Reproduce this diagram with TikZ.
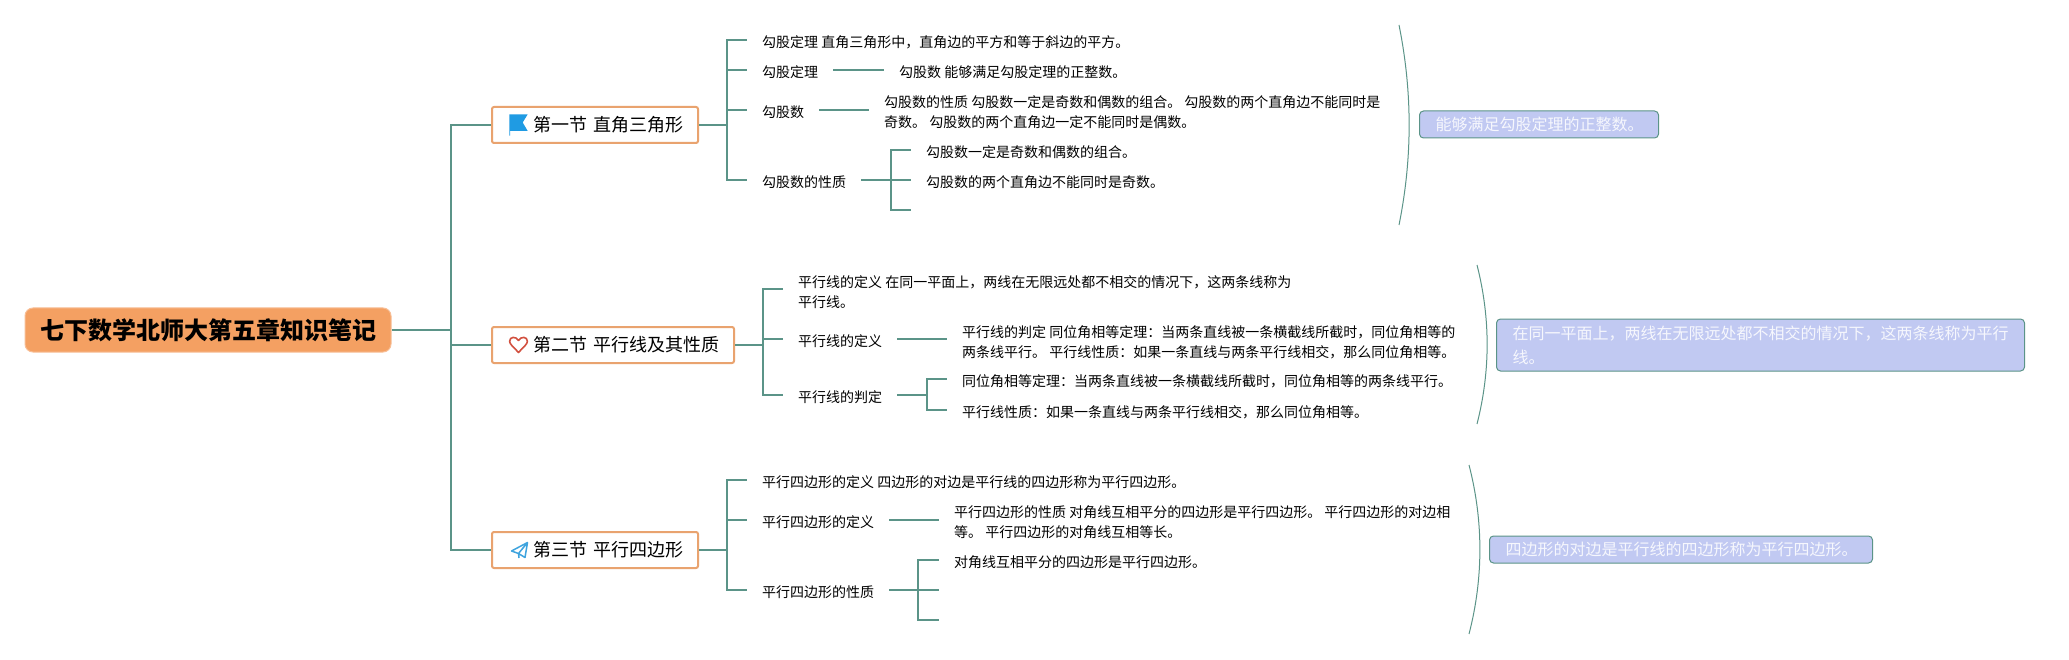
\documentclass[tikz,border=0pt]{standalone}
\usepackage{fontspec}
\setmainfont{Noto Sans CJK SC}
\definecolor{linegreen}{HTML}{5B9488}
\definecolor{sectionorange}{HTML}{E9A36F}
\definecolor{rootorange}{HTML}{F4A062}
\definecolor{rootedge}{HTML}{F8BE95}
\definecolor{notefill}{HTML}{C1C9F2}
\definecolor{notetext}{HTML}{F6F7FD}
\definecolor{flagblue}{HTML}{1F9BE3}
\definecolor{planeblue}{HTML}{3FA4DE}
\definecolor{heartred}{HTML}{D2503F}
\tikzset{
  conn/.style={draw=linegreen,line width=2.3pt,line join=miter},
  gap/.style={shorten <=15pt,shorten >=15pt},
  tick/.style={shorten >=15pt},
  arc/.style={draw=linegreen,line width=1pt},
  rootbox/.style={fill=rootorange,draw=rootedge,line width=1pt,rounded corners=8pt,
    minimum width=366pt,minimum height=44pt,inner sep=0pt,
    font=\fontsize{24}{28}\selectfont\bfseries,text=black},
  secbox/.style={fill=white,draw=sectionorange,line width=2pt,rounded corners=2pt,
    minimum height=36pt,inner xsep=15pt,inner ysep=0pt,align=right,anchor=west,
    font=\fontsize{18}{22}\selectfont,text=black},
  txt/.style={anchor=west,inner sep=0pt,align=left,text=black,
    font=\fontsize{14}{20}\selectfont},
  notebox/.style={fill=notefill,draw=linegreen,line width=1pt,rounded corners=4pt,
    anchor=west,inner xsep=16pt,inner ysep=0pt,align=left,text=notetext,
    font=\fontsize{16}{24}\selectfont}
}
\begin{document}
\begin{tikzpicture}[x=1pt,y=-1pt]
\useasboundingbox (0,0) rectangle (2069,660);
\fill[white] (0,0) rectangle (2069,660);

% nodes: root and sections
\node[rootbox] (root) at (208,330) {七下数学北师大第五章知识笔记};
\node[secbox,text width=176pt] (s1) at (491,125) {第一节 直角三角形};
\node[secbox,text width=212pt] (s2) at (491,345) {第二节 平行线及其性质};
\node[secbox,text width=176pt] (s3) at (491,550) {第三节 平行四边形};

% junctions
\coordinate (j0) at (451,330);
\coordinate (j1) at (727,125);
\coordinate (j2) at (763,345);
\coordinate (j3) at (727,550);
\coordinate (j14) at (891,180);
\coordinate (j23) at (927,395);
\coordinate (j33) at (918,590);
\coordinate (e14) at (911,210);
\coordinate (e33a) at (939,590);
\coordinate (e33b) at (939,620);

% section 1 texts
\node[txt] (a1) at (762,42) {勾股定理 直角三角形中，直角边的平方和等于斜边的平方。};
\node[txt] (a2) at (762,72) {勾股定理};
\node[txt] (a2d) at (899,72) {勾股数 能够满足勾股定理的正整数。};
\node[txt] (a3) at (762,112) {勾股数};
\node[txt] (a3d) at (884,112) {勾股数的性质 勾股数一定是奇数和偶数的组合。 勾股数的两个直角边不能同时是\\奇数。 勾股数的两个直角边一定不能同时是偶数。};
\node[txt] (a4) at (762,182) {勾股数的性质};
\node[txt] (a41) at (926,152) {勾股数一定是奇数和偶数的组合。};
\node[txt] (a42) at (926,182) {勾股数的两个直角边不能同时是奇数。};

% section 2 texts
\node[txt] (b1) at (798,292) {平行线的定义 在同一平面上，两线在无限远处都不相交的情况下，这两条线称为\\平行线。};
\node[txt] (b2) at (798,341) {平行线的定义};
\node[txt] (b2d) at (962,342) {平行线的判定 同位角相等定理：当两条直线被一条横截线所截时，同位角相等的\\两条线平行。 平行线性质：如果一条直线与两条平行线相交，那么同位角相等。};
\node[txt] (b3) at (798,397) {平行线的判定};
\node[txt] (b31) at (962,381) {同位角相等定理：当两条直线被一条横截线所截时，同位角相等的两条线平行。};
\node[txt] (b32) at (962,412) {平行线性质：如果一条直线与两条平行线相交，那么同位角相等。};

% section 3 texts
\node[txt] (c1) at (762,482) {平行四边形的定义 四边形的对边是平行线的四边形称为平行四边形。};
\node[txt] (c2) at (762,522) {平行四边形的定义};
\node[txt] (c2d) at (954,522) {平行四边形的性质 对角线互相平分的四边形是平行四边形。 平行四边形的对边相\\等。 平行四边形的对角线互相等长。};
\node[txt] (c3) at (762,592) {平行四边形的性质};
\node[txt] (c31) at (954,562) {对角线互相平分的四边形是平行四边形。};

% notes
\node[notebox,text width=207pt,minimum height=27pt] (n1) at (1419,124.5) {能够满足勾股定理的正整数。};
\node[notebox,text width=496pt,minimum height=52pt] (n2) at (1496,345) {在同一平面上，两线在无限远处都不相交的情况下，这两条线称为平行\\线。};
\node[notebox,text width=351pt,minimum height=27pt] (n3) at (1489,549.5) {四边形的对边是平行线的四边形称为平行四边形。};

% main connectors
\draw[conn] (root.east) -- (j0);
\draw[conn] (j0) |- (s1.west);
\draw[conn] (j0) |- (s2.west);
\draw[conn] (j0) |- (s3.west);

% section 1 connectors
\draw[conn] (s1.east) -- (j1);
\draw[conn,tick] (j1) |- ([yshift=2pt]a1.west);
\draw[conn,tick] (j1) |- ([yshift=2pt]a2.west);
\draw[conn,tick] (j1) |- ([yshift=2pt]a3.west);
\draw[conn,tick] (j1) |- ([yshift=2pt]a4.west);
\draw[conn,gap] ([yshift=2pt]a2.east) -- ([yshift=2pt]a2d.west);
\draw[conn,gap] ([yshift=2pt]a3.east) -- ([yshift=2pt]a3d.west);
\draw[conn,shorten <=15pt] ([yshift=2pt]a4.east) -- (j14);
\draw[conn,tick] (j14) |- ([yshift=2pt]a41.west);
\draw[conn,tick] (j14) -- ([yshift=2pt]a42.west);
\draw[conn] (j14) |- (e14);

% section 2 connectors
\draw[conn] (s2.east) -- (j2);
\draw[conn,tick] (j2) |- ([yshift=3pt]b1.west);
\draw[conn,tick] (j2) |- ([yshift=2pt]b2.west);
\draw[conn,tick] (j2) |- ([yshift=2pt]b3.west);
\draw[conn,gap] ([yshift=2pt]b2.east) -- ([yshift=2pt]b2d.west |- b2.east);
\draw[conn,shorten <=15pt] ([yshift=2pt]b3.east) -- (j23);
\draw[conn,tick] (j23) |- ([yshift=2pt]b31.west);
\draw[conn,tick] (j23) |- ([yshift=2pt]b32.west);

% section 3 connectors
\draw[conn] (s3.east) -- (j3);
\draw[conn,tick] (j3) |- ([yshift=2pt]c1.west);
\draw[conn,tick] (j3) |- ([yshift=2pt]c2.west);
\draw[conn,tick] (j3) |- ([yshift=2pt]c3.west);
\draw[conn,gap] ([yshift=2pt]c2.east) -- ([yshift=2pt]c2d.west);
\draw[conn,shorten <=15pt] ([yshift=2pt]c3.east) -- (j33);
\draw[conn,tick] (j33) |- ([yshift=2pt]c31.west);
\draw[conn] (j33) -- (e33a);
\draw[conn] (j33) |- (e33b);

% summary arcs
\coordinate (r1a) at (1399,25);  \coordinate (r1b) at (1399,225);
\coordinate (r2a) at (1477,265); \coordinate (r2b) at (1477,424);
\coordinate (r3a) at (1469,465); \coordinate (r3b) at (1469,634);
\draw[arc] (r1a) .. controls (1412.5,92) and (1412.5,158) .. (r1b);
\draw[arc] (r2a) .. controls (1490.5,318) and (1490.5,371) .. (r2b);
\draw[arc] (r3a) .. controls (1483.5,521) and (1483.5,578) .. (r3b);

% icons
\fill[flagblue] (509.3,114.3) -- (527.7,114.3) -- (522.7,122.5) -- (527.7,131) -- (510.2,131) -- (510.2,135.7) -- (509.3,135.7) -- cycle;
\draw[heartred,line width=1.6pt,line join=round] (518.5,352.5)
  .. controls (513,346.5) and (509.6,344) .. (509.6,341.3)
  .. controls (509.6,336.5) and (516,336) .. (518.5,340.5)
  .. controls (521,336) and (527.4,336.5) .. (527.4,341.3)
  .. controls (527.4,344) and (524,346.5) .. (518.5,352.5) -- cycle;
\draw[planeblue,line width=1.5pt,line join=round] (527.5,542.5) -- (511.5,551) -- (518.5,553.5) -- (527.5,542.5) -- (525,557.5) -- (518.5,553.5) -- (519,558);
\end{tikzpicture}
\end{document}
